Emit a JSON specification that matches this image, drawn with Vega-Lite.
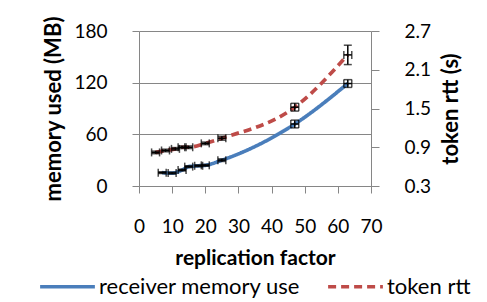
{
  "$schema": "https://vega.github.io/schema/vega-lite/v6.json",
  "width": 232,
  "height": 155,
  "autosize": {"type": "none"},
  "padding": {"left": 139, "top": 31, "right": 116, "bottom": 116},
  "background": "white",
  "config": {
    "font": "Lato",
    "view": {"stroke": null},
    "axis": {"labelFont": "Lato", "titleFont": "Lato", "labelFontSize": 19, "titleFontSize": 22, "titleFontWeight": "bold", "labelColor": "#000", "titleColor": "#000", "domainColor": "#868686", "tickColor": "#868686", "gridColor": "#868686", "labelOverlap": false, "labelFlush": false},
    "legend": {"labelFont": "Lato", "labelFontSize": 22, "labelColor": "#000", "labelLimit": 400}
  },
  "datasets": {
    "mem": [
      {"series": "receiver memory use", "rf": 7, "value": 15.5, "xlo": 5.8, "xhi": 8.2, "ylo": 14.5, "yhi": 16.5},
      {"series": "receiver memory use", "rf": 10, "value": 15, "xlo": 8.8, "xhi": 11.2, "ylo": 14, "yhi": 16},
      {"series": "receiver memory use", "rf": 13, "value": 18.5, "xlo": 11.8, "xhi": 14.2, "ylo": 17.5, "yhi": 19.5},
      {"series": "receiver memory use", "rf": 15, "value": 22.5, "xlo": 13.8, "xhi": 16.2, "ylo": 21.5, "yhi": 23.5},
      {"series": "receiver memory use", "rf": 18, "value": 23.5, "xlo": 16.8, "xhi": 19.2, "ylo": 22.5, "yhi": 24.5},
      {"series": "receiver memory use", "rf": 20, "value": 24, "xlo": 18.8, "xhi": 21.2, "ylo": 23, "yhi": 25},
      {"series": "receiver memory use", "rf": 25, "value": 30, "xlo": 23.8, "xhi": 26.2, "ylo": 28.5, "yhi": 31.5},
      {"series": "receiver memory use", "rf": 47, "value": 72, "xlo": 45.8, "xhi": 48.2, "ylo": 67.5, "yhi": 76.5},
      {"series": "receiver memory use", "rf": 63, "value": 119, "xlo": 61.8, "xhi": 64.2, "ylo": 114.5, "yhi": 123.5}
    ],
    "rtt": [
      {"series": "token rtt", "rf": 5, "value": 0.82, "xlo": 3.8, "xhi": 6.2, "ylo": 0.8, "yhi": 0.84},
      {"series": "token rtt", "rf": 8, "value": 0.85, "xlo": 6.8, "xhi": 9.2, "ylo": 0.83, "yhi": 0.87},
      {"series": "token rtt", "rf": 11, "value": 0.875, "xlo": 9.8, "xhi": 12.2, "ylo": 0.855, "yhi": 0.895},
      {"series": "token rtt", "rf": 13, "value": 0.9, "xlo": 11.8, "xhi": 14.2, "ylo": 0.88, "yhi": 0.92},
      {"series": "token rtt", "rf": 15, "value": 0.9, "xlo": 13.8, "xhi": 16.2, "ylo": 0.88, "yhi": 0.92},
      {"series": "token rtt", "rf": 20, "value": 0.96, "xlo": 18.8, "xhi": 21.2, "ylo": 0.94, "yhi": 0.98},
      {"series": "token rtt", "rf": 25, "value": 1.04, "xlo": 23.8, "xhi": 26.2, "ylo": 1.01, "yhi": 1.07},
      {"series": "token rtt", "rf": 47, "value": 1.52, "xlo": 45.8, "xhi": 48.2, "ylo": 1.46, "yhi": 1.58},
      {"series": "token rtt", "rf": 63, "value": 2.33, "xlo": 61.8, "xhi": 64.2, "ylo": 2.18, "yhi": 2.48}
    ]
  },
  "encoding": {
    "x": {"field": "rf", "type": "quantitative", "scale": {"domain": [0, 70], "nice": false}, "axis": {"values": [0, 10, 20, 30, 40, 50, 60, 70], "grid": false, "tickSize": 7, "labelPadding": 24, "title": "replication factor", "titleFontSize": 21, "titlePadding": 11, "labelOverlap": false, "labelFlush": false}}
  },
  "layer": [
    {
      "data": {"name": "mem"},
      "layer": [
        {
          "mark": {"type": "line", "interpolate": "monotone", "strokeWidth": 3.7},
          "encoding": {
            "y": {"field": "value", "type": "quantitative", "scale": {"domain": [0, 180], "nice": false}, "axis": {"values": [0, 60, 120, 180], "grid": true, "tickSize": 7, "labelPadding": 25, "title": "memory used (MB)", "titlePadding": 8, "labelOverlap": false}},
            "color": {"field": "series", "type": "nominal", "scale": {"domain": ["receiver memory use", "token rtt"], "range": ["#4a7ebb", "#be4b48"]}, "legend": {"orient": "none", "legendX": -101, "legendY": 226, "direction": "horizontal", "title": null, "symbolType": "stroke", "symbolSize": 3000, "symbolStrokeWidth": 3.5, "labelOffset": 2, "columnPadding": 20, "labelLimit": 400}},
            "strokeDash": {"field": "series", "type": "nominal", "scale": {"domain": ["receiver memory use", "token rtt"], "range": [[1, 0], [8, 5]]}, "legend": {"orient": "none", "legendX": -101, "legendY": 226, "direction": "horizontal", "title": null, "symbolType": "stroke", "symbolSize": 3000, "symbolStrokeWidth": 3.5, "labelOffset": 2, "columnPadding": 20, "labelLimit": 400}}
          }
        },
        {
          "mark": {"type": "errorbar", "orient": "horizontal", "ticks": {"size": 8, "color": "#000"}, "color": "#000", "thickness": 1.5},
          "encoding": {
            "x": {"field": "xlo", "type": "quantitative"},
            "x2": {"field": "xhi"},
            "y": {"field": "value", "type": "quantitative", "axis": {"values": [0, 60, 120, 180], "grid": true, "tickSize": 7, "labelPadding": 25, "title": "memory used (MB)", "titlePadding": 8, "labelOverlap": false}}
          }
        },
        {
          "mark": {"type": "errorbar", "orient": "vertical", "ticks": {"size": 8, "color": "#000"}, "color": "#000", "thickness": 1.5},
          "encoding": {
            "x": {"field": "rf", "type": "quantitative"},
            "y": {"field": "ylo", "type": "quantitative", "axis": {"values": [0, 60, 120, 180], "grid": true, "tickSize": 7, "labelPadding": 25, "title": "memory used (MB)", "titlePadding": 8, "labelOverlap": false}},
            "y2": {"field": "yhi"}
          }
        }
      ]
    },
    {
      "data": {"name": "rtt"},
      "layer": [
        {
          "mark": {"type": "line", "interpolate": "monotone", "strokeWidth": 3.7},
          "encoding": {
            "y": {"field": "value", "type": "quantitative", "scale": {"domain": [0.3, 2.7], "nice": false, "zero": false}, "axis": {"orient": "right", "values": [0.3, 0.9, 1.5, 2.1, 2.7], "format": ".1f", "grid": false, "tickSize": 8, "labelPadding": 25, "title": "token rtt (s)", "titleAngle": 270, "titlePadding": 32, "labelOverlap": false}},
            "color": {"field": "series", "type": "nominal"},
            "strokeDash": {"field": "series", "type": "nominal"}
          }
        },
        {
          "mark": {"type": "errorbar", "orient": "horizontal", "ticks": {"size": 8, "color": "#000"}, "color": "#000", "thickness": 1.5},
          "encoding": {
            "x": {"field": "xlo", "type": "quantitative"},
            "x2": {"field": "xhi"},
            "y": {"field": "value", "type": "quantitative", "axis": {"orient": "right", "values": [0.3, 0.9, 1.5, 2.1, 2.7], "format": ".1f", "grid": false, "tickSize": 8, "labelPadding": 25, "title": "token rtt (s)", "titleAngle": 270, "titlePadding": 32, "labelOverlap": false}}
          }
        },
        {
          "mark": {"type": "errorbar", "orient": "vertical", "ticks": {"size": 8, "color": "#000"}, "color": "#000", "thickness": 1.5},
          "encoding": {
            "x": {"field": "rf", "type": "quantitative"},
            "y": {"field": "ylo", "type": "quantitative", "axis": {"orient": "right", "values": [0.3, 0.9, 1.5, 2.1, 2.7], "format": ".1f", "grid": false, "tickSize": 8, "labelPadding": 25, "title": "token rtt (s)", "titleAngle": 270, "titlePadding": 32, "labelOverlap": false}},
            "y2": {"field": "yhi"}
          }
        }
      ]
    }
  ],
  "resolve": {"scale": {"y": "independent"}}
}
